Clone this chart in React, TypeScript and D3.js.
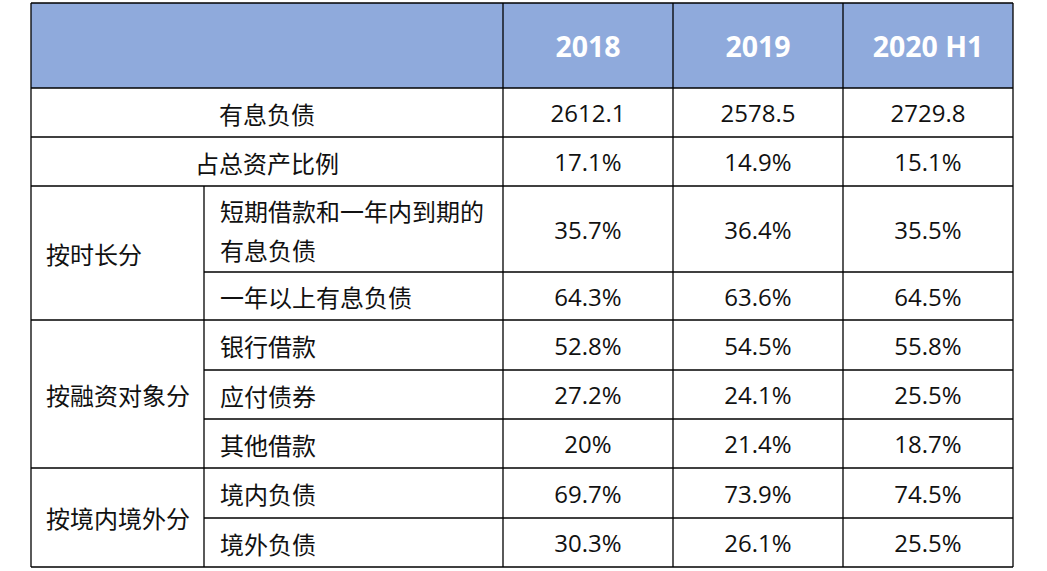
import React from 'react';
import * as d3 from 'd3';

// column headers
const years = ['2018', '2019', '2020 H1'];

// row labels (sub-level), '\n' splits a cell into two lines
const rowLabels = [
  '有息负债',
  '占总资产比例',
  '短期借款和一年内到期的\n有息负债',
  '一年以上有息负债',
  '银行借款',
  '应付债券',
  '其他借款',
  '境内负债',
  '境外负债',
];

// group label for each row ('' = the row label spans both label columns)
const rowGroups = ['', '', '按时长分', '按时长分', '按融资对象分', '按融资对象分', '按融资对象分', '按境内境外分', '按境内境外分'];

const values2018 = [2612.1, 17.1, 35.7, 64.3, 52.8, 27.2, 20, 69.7, 30.3];
const values2019 = [2578.5, 14.9, 36.4, 63.6, 54.5, 24.1, 21.4, 73.9, 26.1];
const values2020H1 = [2729.8, 15.1, 35.5, 64.5, 55.8, 25.5, 18.7, 74.5, 25.5];

const W = 1047;
const H = 571;
const left = 31;
const right = 1013;
const top = 3;
const headerH = 85;
const groupW = 173;
const labelW = 299;
const rowHeights = [49, 49, 86, 48, 50, 49, 49, 50, 49];

const font = "'Open Sans', 'Noto Sans CJK SC', sans-serif";
const cjk = "'Noto Sans CJK SC', sans-serif";

const fmt = (v: number, i: number) => (i === 0 ? d3.format('.1f')(v) : `${v}%`);

export default function App() {
  const series = [values2018, values2019, values2020H1];
  const valueLeft = left + groupW + labelW;
  const x = d3.scaleBand<string>().domain(years).range([valueLeft, right]);

  const rowTops = [top + headerH, ...Array.from(d3.cumsum(rowHeights), (c) => top + headerH + c)];
  const rowY = (i: number) => rowTops[i];
  const rowMid = (i: number) => rowTops[i] + rowHeights[i] / 2;

  // contiguous runs of groups
  const spans: { label: string; start: number; end: number }[] = [];
  rowGroups.forEach((g, i) => {
    const last = spans[spans.length - 1];
    if (g && last && last.label === g) last.end = i;
    else spans.push({ label: g, start: i, end: i });
  });

  const line = (x1: number, y1: number, x2: number, y2: number, k: string) => (
    <line key={k} x1={x1} y1={y1} x2={x2} y2={y2} stroke="#000" strokeWidth={1.3} />
  );

  const bottom = rowTops[rowTops.length - 1];
  const lines: React.ReactNode[] = [];
  // horizontal lines
  lines.push(line(left, top, right, top, 'ht'));
  rowTops.forEach((y, i) => {
    const g = rowGroups[i];
    const prev = rowGroups[i - 1];
    const inner = i > 0 && i < rowLabels.length && g && g === prev;
    lines.push(line(inner ? left + groupW : left, y, right, y, 'h' + i));
  });
  // vertical lines
  lines.push(line(left, top, left, bottom, 'vl'));
  lines.push(line(right, top, right, bottom, 'vr'));
  years.forEach((yr) => lines.push(line(x(yr)!, top, x(yr)!, bottom, 'v' + yr)));
  spans
    .filter((s) => s.label)
    .forEach((s) => lines.push(line(left + groupW, rowY(s.start), left + groupW, rowY(s.end + 1), 'vg' + s.start)));

  return (
    <svg width={W} height={H} style={{ position: 'absolute', left: 0, top: 0 }}>
      <rect x={0} y={0} width={W} height={H} fill="#fff" />
      <rect x={left} y={top} width={right - left} height={headerH} fill="#8FAADC" />
      {years.map((yr) => (
        <text
          key={yr}
          x={x(yr)! + x.bandwidth() / 2}
          y={top + headerH / 2}
          textAnchor="middle"
          dominantBaseline="central"
          fill="#fff"
          fontWeight="bold"
          fontSize={28.5}
          fontFamily={font}
        >
          {yr}
        </text>
      ))}

      {spans.map((s) =>
        s.label ? (
          <text
            key={'g' + s.start}
            x={left + 15}
            y={(rowY(s.start) + rowY(s.end + 1)) / 2}
            dominantBaseline="central"
            fontSize={24}
            fontFamily={cjk}
            fill="#111"
          >
            {s.label}
          </text>
        ) : null
      )}

      {rowLabels.map((lab, i) => {
        const parts = lab.split('\n');
        const spanAll = !rowGroups[i];
        const tx = spanAll ? left + (groupW + labelW) / 2 : left + groupW + 16;
        return (
          <text
            key={'r' + i}
            x={tx}
            textAnchor={spanAll ? 'middle' : 'start'}
            dominantBaseline="central"
            fontSize={24}
            fontFamily={cjk}
            fill="#111"
          >
            {parts.map((p, j) => (
              <tspan key={j} x={tx} y={rowMid(i) + (j - (parts.length - 1) / 2) * 39}>
                {p}
              </tspan>
            ))}
          </text>
        );
      })}

      {series.map((vals, c) =>
        vals.map((v, i) => (
          <text
            key={c + '-' + i}
            x={x(years[c])! + x.bandwidth() / 2}
            y={rowMid(i)}
            textAnchor="middle"
            dominantBaseline="central"
            fontSize={24}
            fontFamily={font}
            fill="#111"
          >
            {fmt(v, i)}
          </text>
        ))
      )}

      {lines}
    </svg>
  );
}
